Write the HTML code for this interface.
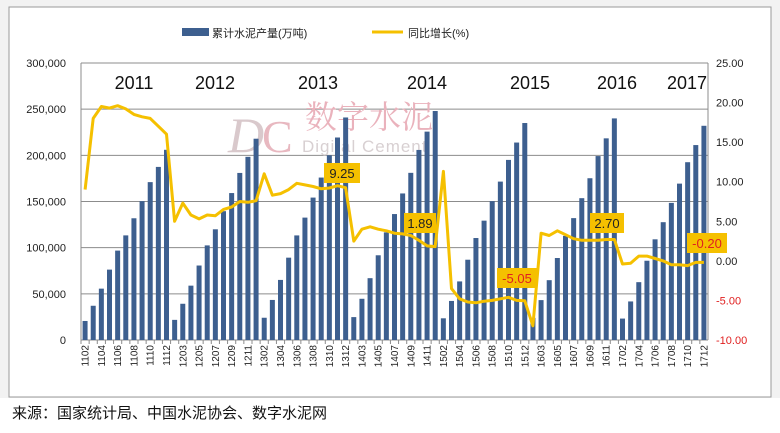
<!DOCTYPE html><html><head><meta charset="utf-8"><style>
body{margin:0;background:#fff;width:780px;height:428px;overflow:hidden;font-family:"Liberation Sans","Noto Sans CJK SC",sans-serif}
</style></head><body>
<svg id="s" width="780" height="428" xmlns="http://www.w3.org/2000/svg" font-family="Liberation Sans, Noto Sans CJK SC, sans-serif"></svg>
<script>
const s=document.getElementById('s');let h='';
h+='<rect x="0" y="0" width="780" height="428" fill="#f2f2f2"/>';
h+='<rect x="9" y="7" width="762" height="390" fill="#fff" stroke="#9a9a9a"/>';
h+='<rect x="0" y="398" width="780" height="30" fill="#fff"/>';
const L=81,R=708,T=63,B=340;
for(let k=0;k<=6;k++){const y=B-k*(B-T)/6;h+=`<line x1="${L}" x2="${R}" y1="${y}" y2="${y}" stroke="#8c8c8c" stroke-width="1"/>`;
h+=`<text x="66" y="${y+4}" font-size="11" text-anchor="end" fill="#222">${k==0?'0':(k*50)+',000'}</text>`;}
for(let k=0;k<=7;k++){const v=25-k*5,y=T+k*(B-T)/7;h+=`<text x="716" y="${y+4}" font-size="11" fill="${v<0?'#e02020':'#222'}">${v.toFixed(2)}</text>`;}
h+=`<line x1="${L}" x2="${L}" y1="${T}" y2="${B}" stroke="#8c8c8c"/><line x1="${R}" x2="${R}" y1="${T}" y2="${B}" stroke="#8c8c8c"/>`;
h+='<text x="228" y="152" font-size="50" font-family="Liberation Serif,serif" font-style="italic" fill="#d9c9cc">D</text><text x="262" y="152" font-size="46" font-family="Liberation Serif,serif" fill="#e8b8c0">C</text>';
h+='<text x="305" y="128" font-size="32" fill="#eab2bc" font-family="Noto Serif CJK SC,serif">数字水泥</text>';
h+='<text x="302" y="152" font-size="17" fill="#d8d0d2" letter-spacing="1">Digital Cement</text>';
const dec=[206,218,241,248,235,240,232],fr=[.1,.18,.27,.37,.47,.55,.64,.73,.83,.91,1];
const g=[9,18,19.5,19.3,19.6,19.2,18.5,18.2,18,17,16,
5,7.3,5.8,5.3,5.8,5.7,6.5,6.8,7.5,7.4,7.6,
11,8.3,8.5,9,9.8,9.6,9.4,9.1,9.2,9.5,9.25,
2.5,4,4.3,4,3.8,3.5,3.4,3.2,2.6,1.89,1.8,
11.3,-3.5,-4.8,-5.2,-5.3,-5.1,-5,-4.8,-4.6,-5,-5.05,
-8.2,3.5,3.2,3.8,3.3,2.8,2.6,2.6,2.6,2.7,2.7,
-0.4,-0.3,0.6,0.6,0.3,0,-0.5,-0.5,-0.6,-0.2,-0.2];
const w=(R-L)/77;let pts=[];
for(let i=0;i<77;i++){const yr=Math.floor(i/11),m=i%11,v=dec[yr]*1000*fr[m];const cx=L+(i+.5)*w;const y=B-v/300000*(B-T);
h+=`<rect x="${cx-2.5}" y="${y}" width="5" height="${B-y}" fill="#3d5f8f"/>`;
pts.push(cx.toFixed(1)+','+(T+(25-g[i])/35*(B-T)).toFixed(1));
if(i%2==0){const mo=m+2,lab=(11+yr)+''+(mo<10?'0'+mo:mo);h+=`<text transform="translate(${cx+3.5},345) rotate(-90)" font-size="10" text-anchor="end" fill="#222">${lab}</text>`;}
h+=`<line x1="${L+i*w}" x2="${L+i*w}" y1="${B}" y2="${B+4}" stroke="#8c8c8c"/>`;}
h+=`<polyline points="${pts.join(' ')}" fill="none" stroke="#f5c000" stroke-width="3" stroke-linejoin="round"/>`;
const yrs=[[134,'2011'],[215,'2012'],[318,'2013'],[427,'2014'],[530,'2015'],[617,'2016'],[687,'2017']];
yrs.forEach(a=>h+=`<text x="${a[0]}" y="89" font-size="18" text-anchor="middle" fill="#111">${a[1]}</text>`);
const lb=[[324,163,36,'9.25','#222'],[404,213,32,'1.89','#222'],[497,268,40,'-5.05','#e02020'],[590,213,34,'2.70','#222'],[687,233,40,'-0.20','#e02020']];
lb.forEach(a=>h+=`<rect x="${a[0]}" y="${a[1]}" width="${a[2]}" height="20" fill="#f5c000"/><text x="${a[0]+a[2]/2}" y="${a[1]+15}" font-size="13" text-anchor="middle" fill="${a[4]}">${a[3]}</text>`);
h+='<rect x="182" y="28" width="27" height="8" fill="#3d5f8f"/><text x="212" y="37" font-size="11" fill="#222">累计水泥产量(万吨)</text>';
h+='<line x1="372" x2="403" y1="32" y2="32" stroke="#f5c000" stroke-width="3"/><text x="408" y="37" font-size="11" fill="#222">同比增长(%)</text>';
h+='<text x="12" y="418" font-size="15" fill="#111">来源：国家统计局、中国水泥协会、数字水泥网</text>';
s.innerHTML=h;
</script></body></html>
